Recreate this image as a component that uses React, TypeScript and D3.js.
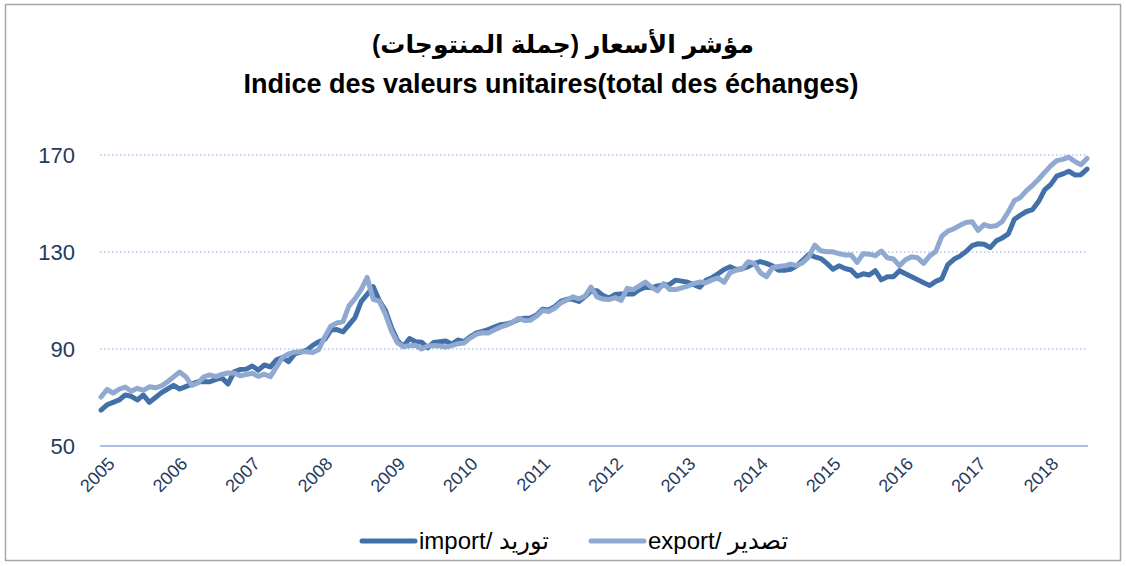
import React from "react";
import * as d3 from "d3";

const titleAr = "مؤشر الأسعار (جملة المنتوجات)";
const titleFr = "Indice des valeurs unitaires(total des échanges)";

const yearLabels = ["2005","2006","2007","2008","2009","2010","2011","2012","2013","2014","2015","2016","2017","2018"];
const yTicks = [50, 90, 130, 170];

// monthly values, Jan 2005 .. Aug 2018
const importValues = [
  64.8,67,68,69,71,70.5,69,71,68,70,72,73.5,
  75,73.5,74.5,75.5,76.5,76.5,76.5,77.5,78,75.6,80.6,81.5,
  81.7,83,81.3,83.4,82.6,85.5,86.5,84.8,88,88.7,89.5,91.5,
  93,94,97.8,98,97.1,100,103,109.5,112.5,115.7,110,106,
  99,93.5,91,94.3,93,92.8,90.5,92.7,93,93.3,92,93.7,
  93,95,96.5,97.3,98,99,100,100.3,101,102.2,102.7,102.8,
  104,106.4,106.1,107.5,109.6,110.5,110.5,109.6,111.5,114,114,112,
  111,112.5,112.7,112.7,112.7,114.5,115.5,115.2,116,116.4,116.6,118.4,
  118,117.5,116.5,115.5,118.3,119.4,121,122.8,123.9,122.8,123.1,124,
  125.3,126,125.3,124.3,122.5,122.5,122.9,124.3,126.5,129,128,127.3,
  125.3,122.9,124.3,123.2,122.6,120,121,120.5,122.3,118.5,119.8,119.8,
  122.3,121,119.8,118.6,117.3,116.2,117.9,119,124.8,127,128.3,130.2,
  132.6,133.4,133.2,131.8,134.6,135.8,137.5,143.5,145.2,146.7,147.5,150.8,
  155.6,157.8,161.3,162.2,163.3,161.8,161.9,164.2
];

const exportValues = [
  70.2,73.3,71.8,73.4,74.3,72.6,73.8,72.9,74.4,74,74.8,76.5,
  78.5,80.5,78.6,75,76,78.5,79.3,78.6,79.5,80.1,80.1,79,
  79.5,80,78.7,79.6,78.6,82.5,86.5,88,88.7,88.9,88.9,88.5,
  89.8,95,99.5,100.7,101.3,107.8,110.8,114.5,119.5,110.5,109.7,104.5,
  97.5,92.5,91,91.3,91.5,90,91.2,91.4,91.2,90.8,91.4,92.2,
  92.5,94.5,96,96.7,96.6,97.8,99,99.8,101,102.6,101.8,101.9,
  103.5,105.9,105.5,106.8,109,110.2,111.5,110.7,111.7,115.5,111.5,110.6,
  110.4,111.2,110,115,114.5,116,117.6,115.5,114,117,114.5,114.5,
  115.2,115.9,117,117.6,117.3,118.5,119.3,117.5,121.5,122.5,123,126,
  125.3,121.5,119.8,123.5,124,124.3,125,124.4,125.6,128,132.8,130.5,
  130.1,130.1,129.3,128.8,128.8,125.7,129.3,129.1,128.5,130.4,127.6,127.1,
  124.4,126.8,128,127.6,125.3,128.4,130.2,136.5,138.6,139.6,141,142.2,
  142.5,138.9,141.3,140.5,140.8,142.6,146.6,151.2,152.5,155.3,157.5,160,
  162.8,165.5,167.7,168.2,169.1,167.3,166,168.6
];

const seriesNames = ["import/ توريد", "export/ تصدير"];
const seriesColors = ["#4270a8", "#8fa9d1"];

const W = 1126;
const H = 566;
const font = "'Liberation Sans', 'DejaVu Sans', Arial, sans-serif";
const tickColor = "#243a5e";

export default function App() {
  const idx = d3.range(importValues.length);
  const x = d3.scalePoint<number>().domain(idx).range([98, 1090]).padding(0.5);
  const y = d3.scaleLinear().domain([50, 170]).range([446, 155]);

  const line = d3
    .line<number>()
    .x((_, i) => x(i) as number)
    .y((d) => y(d))
    .curve(d3.curveLinear);

  const series = [importValues, exportValues];

  return (
    <svg
      width={W}
      height={H}
      style={{ position: "absolute", left: 0, top: 0, background: "#fff" }}
      fontFamily={font}
    >
      <rect x={5.5} y={4.5} width={1115} height={556} fill="#fff" stroke="#a6a6a6" strokeWidth={1.5} />

      <text x={563} y={53} textAnchor="middle" fontSize={25} fontWeight="bold" fill="#000">
        {titleAr}
      </text>
      <text x={551} y={93} textAnchor="middle" fontSize={27} fontWeight="bold" fill="#000">
        {titleFr}
      </text>

      {yTicks.map((t) => (
        <g key={t}>
          {t === 50 ? (
            <line x1={100} x2={1088} y1={y(t)} y2={y(t)} stroke="#abc0e6" strokeWidth={2} />
          ) : (
            <line
              x1={100}
              x2={1088}
              y1={y(t)}
              y2={y(t)}
              stroke="#b4c7e7"
              strokeWidth={1.5}
              strokeDasharray="1.5,2.5"
            />
          )}
          <text x={75} y={y(t)} dy="0.35em" textAnchor="end" fontSize={22} fill={tickColor}>
            {t}
          </text>
        </g>
      ))}

      {yearLabels.map((lab, k) => {
        const px = (x(k * 12) as number) + 6;
        const py = 456;
        return (
          <text
            key={lab}
            x={px}
            y={py}
            textAnchor="end"
            fontSize={18}
            fill={tickColor}
            transform={`rotate(-45 ${px} ${py})`}
            dy="0.7em"
          >
            {lab}
          </text>
        );
      })}

      {series.map((s, k) => (
        <path
          key={k}
          d={line(s) || ""}
          fill="none"
          stroke={seriesColors[k]}
          strokeWidth={5}
          strokeLinejoin="round"
          strokeLinecap="round"
        />
      ))}

      {/* legend */}
      {[362, 591].map((lx, k) => (
        <g key={k}>
          <line x1={lx} x2={lx + 53} y1={541} y2={541} stroke={seriesColors[k]} strokeWidth={5} strokeLinecap="round" />
          <text x={lx + 57} y={541} dy="0.35em" fontSize={24} fill="#000">
            {seriesNames[k]}
          </text>
        </g>
      ))}
    </svg>
  );
}
